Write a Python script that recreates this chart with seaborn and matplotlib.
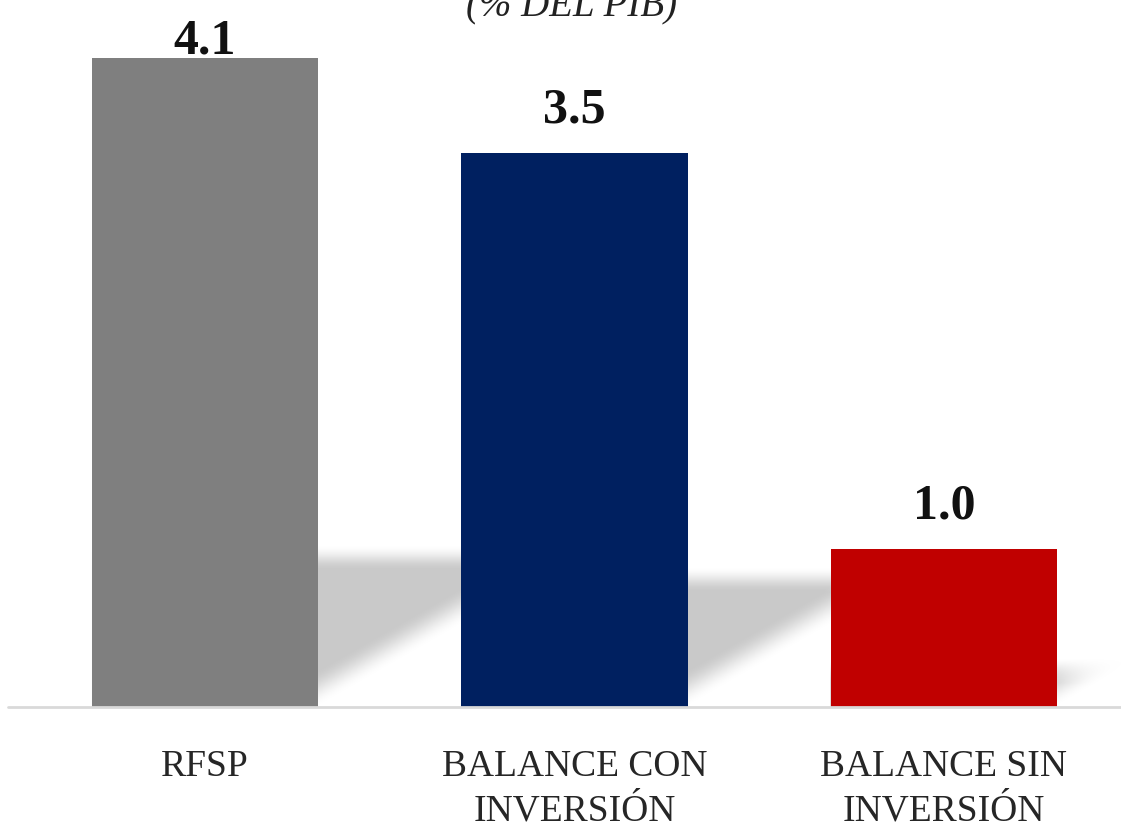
import numpy as np
import pandas as pd
import matplotlib
matplotlib.use("Agg")
import matplotlib.pyplot as plt
import seaborn as sns

# Data
categories = ["RFSP", "Balance con inversión", "Balance sin inversión"]
values = [4.1, 3.5, 1.0]
tick_labels = ["RFSP", "BALANCE CON\nINVERSIÓN", "BALANCE SIN\nINVERSIÓN"]
colors = ["#7f7f7f", "#002060", "#c00000"]
subtitle = "(% DEL PIB)"

sns.set_style("white")
plt.rcParams["font.family"] = ["Liberation Serif", "DejaVu Serif"]

W, H = 1121, 828
fig = plt.figure(figsize=(W / 100, H / 100), dpi=100)
ax = fig.add_axes([8 / W, 120 / H, (W - 8) / W, 708 / H])

df = pd.DataFrame({"cat": categories, "val": values})
bar_w = 0.612
sns.barplot(data=df, x="cat", y="val", hue="cat", palette=colors,
            width=bar_w, saturation=1, legend=False, linewidth=0,
            ax=ax, zorder=2)

xlim = (-0.533, 2.479)
ylim = (0, 4.47)

# soft floor shadows behind each bar (derived from the bar heights)
gx = np.linspace(xlim[0], xlim[1], 900)
gy = np.linspace(0, 1.3, 300)
X, Y = np.meshgrid(gx, gy)
alpha = np.zeros_like(X)
slope = 1.34          # value units per category unit
soft_top, soft_edge = 0.16, 0.24
for i, v in enumerate(values):
    h = 0.23 * v
    u = X - (i + bar_w / 2)
    t1 = np.clip((h - Y) / soft_top + 0.5, 0, 1)
    t2 = np.clip((Y - slope * u) / soft_edge, 0, 1)
    t3 = (u > -bar_w).astype(float)
    a = t1 * t2 * t3
    a = a * a * (3 - 2 * a)   # smoothstep
    alpha = np.maximum(alpha, a * 0.95)
rgba = np.zeros(X.shape + (4,))
rgba[..., :3] = 0.78
rgba[..., 3] = alpha
ax.imshow(rgba, extent=(xlim[0], xlim[1], 0, 1.3), origin="lower",
          aspect="auto", interpolation="bilinear", zorder=1)
ax.set_xlim(*xlim)
ax.set_ylim(*ylim)

# baseline
ax.axhline(0, color="#d9d9d9", lw=2, zorder=3, clip_on=False)

# value labels
for i, v in enumerate(values):
    ax.text(i, min(v + 0.196, 4.135), f"{v:.1f}", ha="center", va="baseline",
            fontsize=36, fontweight="bold", color="#111111", zorder=4)

ax.set_xticks(range(len(categories)))
ax.set_xticklabels(tick_labels, fontsize=27, color="#262626", linespacing=1.36)
ax.tick_params(axis="x", length=0, pad=30)
ax.set_yticks([])
ax.set_xlabel("")
ax.set_ylabel("")
sns.despine(ax=ax, left=True, bottom=True, top=True, right=True)

fig.text(572 / W, 1 - 16 / H, subtitle, ha="center", va="baseline",
         style="italic", fontsize=28, color="#222222")

fig.savefig("out.png", dpi=100)
